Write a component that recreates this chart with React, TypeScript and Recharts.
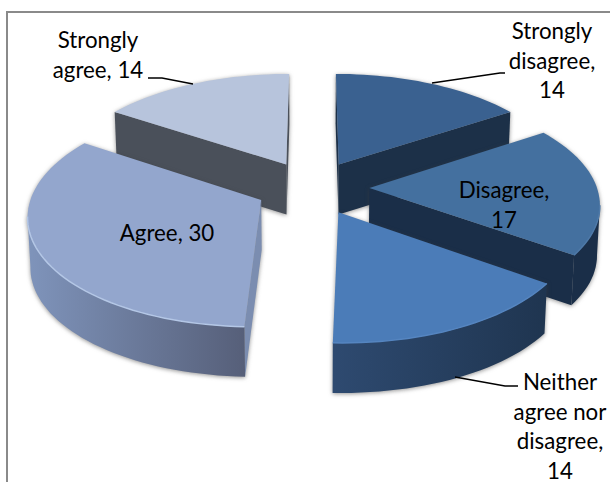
import { PieChart, Pie } from 'recharts'

// Painted back to front, so the pie starts at "Strongly agree" instead of 12 o'clock
const categories = ['Strongly agree', 'Strongly disagree', 'Disagree', 'Neither agree nor disagree', 'Agree']
const values = [14, 14, 17, 14, 30]
const wrappedNames = [
  ['Strongly', 'agree,'],
  ['Strongly', 'disagree,'],
  ['Disagree,'],
  ['Neither', 'agree nor', 'disagree,'],
  ['Agree,'],
]

const topColors = ['#b7c4dc', '#3a6190', '#44709f', '#4b7cb8', '#93a6cd']
const sideFrom = ['#4a505a', '#1c3048', '#1a2e48', '#2e4a70', '#7f94bb']
const sideTo = ['#4a505a', '#1c3048', '#1a2e48', '#1f3550', '#565f79']
const cutColors = ['#4a505a', '#1c3048', '#1a2e48', '#1a2e48', '#7b8db0']
const bevelColors = ['#c3cee2', '#466c9a', '#4e79a8', '#5585c0', '#b4c7e6']

// last line of each label stays on one row with the value when it fits
const labelAnchors = [
  { x: 98, y: 48, inline: true },
  { x: 552, y: 39, inline: false },
  { x: 504, y: 198, inline: false },
  { x: 560, y: 390, inline: false },
  { x: 167, y: 241, inline: true },
]
const leaders = [
  '148,78 162,78 193,84',
  '432,83 500,73 505,73',
  '',
  '455,377 505,386 518,386',
  '',
]

const total = values.reduce((a, b) => a + b, 0)
const startAngle = 90 + (360 * values[0]) / total
const data = categories.map((name, i) => ({ name, value: values[i] }))

// perspective of the tilted disc
const SPREAD_X = 227.5
const SPREAD_Y = 107.4
const PERSPECTIVE = 0.126
const EXPLODE = 0.25
const DEPTH = 50
const BOTTOM_SCALE = 0.99
const LINE_HEIGHT = 29.5

type Pt = [number, number]

function Slice3D(props: any) {
  const { cx, cy, startAngle: a0, endAngle: a1, midAngle, name } = props
  const idx = categories.indexOf(name ?? props.payload?.name)
  const rad = Math.PI / 180
  const mid = (90 - midAngle) * rad
  const ox = EXPLODE * Math.sin(mid)
  const oc = EXPLODE * Math.cos(mid)

  const project = (px: number, pc: number): Pt => {
    const d = 1 + PERSPECTIVE * pc
    return [cx + (SPREAD_X * px) / d, cy - (SPREAD_Y * pc) / d]
  }
  const drop = (p: Pt): Pt => [cx + (p[0] - cx) * BOTTOM_SCALE, p[1] + DEPTH]
  const path = (pts: Pt[]) => 'M' + pts.map((p) => p[0].toFixed(1) + ',' + p[1].toFixed(1)).join('L') + 'Z'

  const apex = project(ox, oc)
  const rim: Pt[] = []
  const steps = Math.max(8, Math.round(Math.abs(a1 - a0) / 2))
  for (let i = 0; i <= steps; i++) {
    const t = (90 - (a0 + ((a1 - a0) * i) / steps)) * rad
    rim.push(project(ox + Math.sin(t), oc + Math.cos(t)))
  }

  // only faces whose top edge runs leftwards look at the viewer
  const front = rim.filter((p, i) => {
    const next = rim[i + 1]
    const prev = rim[i - 1]
    return (next && next[0] < p[0]) || (prev && p[0] < prev[0])
  })
  const first = rim[0]
  const last = rim[rim.length - 1]
  const cuts: Pt[][] = []
  if (first[0] < apex[0]) cuts.push([apex, first, drop(first), drop(apex)])
  if (apex[0] < last[0]) cuts.push([last, apex, drop(apex), drop(last)])

  const gradId = `side-${idx}`
  const strip = [...front, ...[...front].reverse().map(drop)]
  return (
    <g style={{ filter: 'drop-shadow(0px 1px 2px rgba(60,60,60,0.55))' }}>
      <defs>
        <linearGradient id={gradId} x1="0" y1="0" x2="1" y2="0">
          <stop offset="0%" stopColor={sideFrom[idx]} />
          <stop offset="100%" stopColor={sideTo[idx]} />
        </linearGradient>
      </defs>
      {cuts.map((c, i) => (
        <path key={i} d={path(c)} fill={cutColors[idx]} />
      ))}
      {front.length > 1 && <path d={path(strip)} fill={`url(#${gradId})`} />}
      <path d={path([apex, ...rim])} fill={topColors[idx]} />
      {front.length > 1 && (
        <polyline
          points={front.map((p) => p.join(',')).join(' ')}
          fill="none"
          stroke={bevelColors[idx]}
          strokeWidth={1.5}
        />
      )}
    </g>
  )
}

function SliceLabel(props: any) {
  const name = props.name ?? props.payload?.name
  const idx = categories.indexOf(name)
  const anchor = labelAnchors[idx]
  const lines = [...wrappedNames[idx]]
  if (anchor.inline) lines[lines.length - 1] += ` ${values[idx]}`
  else lines.push(String(values[idx]))
  return (
    <g>
      {leaders[idx] && <polyline points={leaders[idx]} fill="none" stroke="#000" strokeWidth={1.3} />}
      {lines.map((line, i) => (
        <text
          key={i}
          x={anchor.x}
          y={anchor.y + i * LINE_HEIGHT}
          textAnchor="middle"
          fontFamily="Lato, sans-serif"
          fontSize={22.3}
          fill="#000"
        >
          {line}
        </text>
      ))}
    </g>
  )
}

export default function App() {
  return (
    <div style={{ position: 'absolute', left: 0, top: 0, width: 610, height: 482, overflow: 'hidden', background: '#fff' }}>
      <div
        style={{
          position: 'absolute',
          left: 6,
          top: 11,
          width: 700,
          height: 700,
          border: '2px solid #8a8a8a',
        }}
      />
      <div style={{ position: 'absolute', left: 0, top: 0 }}>
        <PieChart width={610} height={482} margin={{ top: 0, right: 0, bottom: 0, left: 0 }}>
          <Pie
            data={data}
            dataKey="value"
            nameKey="name"
            cx={312.5}
            cy={187.5}
            outerRadius={100}
            startAngle={startAngle}
            endAngle={startAngle - 360}
            shape={Slice3D}
            label={SliceLabel}
            labelLine={false}
            stroke="none"
            isAnimationActive={false}
          />
        </PieChart>
      </div>
    </div>
  )
}
